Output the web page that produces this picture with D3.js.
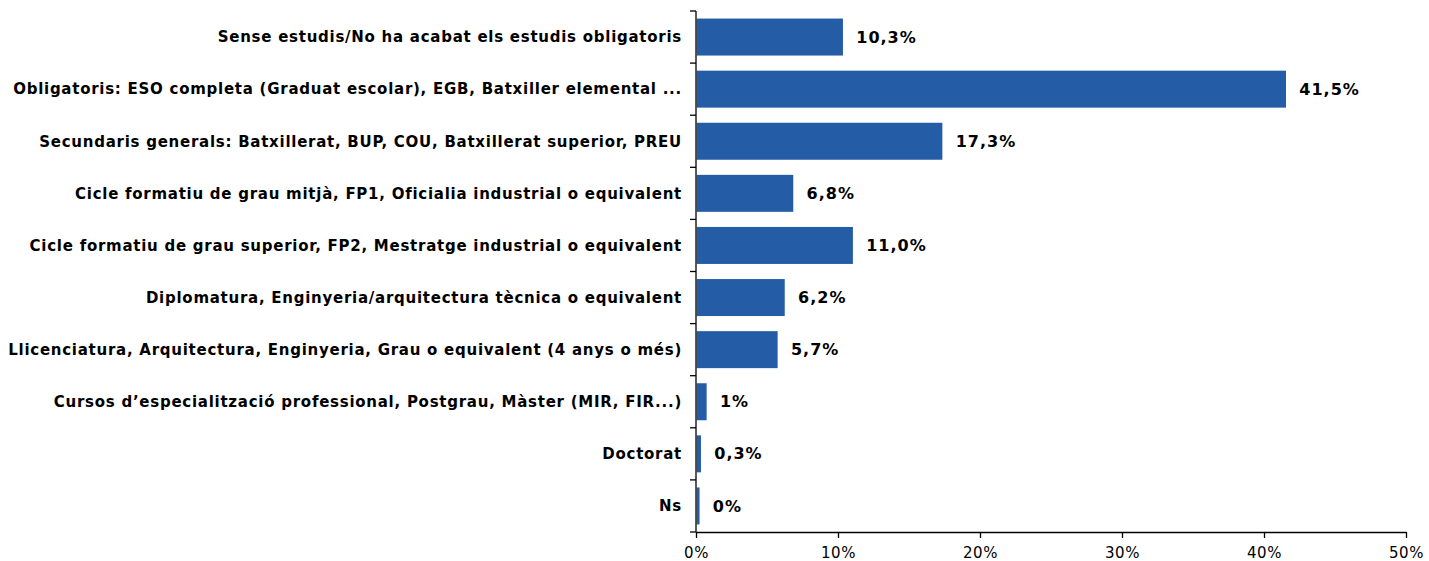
<!DOCTYPE html>
<html>
<head>
<meta charset="utf-8">
<script src="https://cdn.jsdelivr.net/npm/d3@7"></script>
<style>
	body { margin: 0; background: #fff; }
	text { font-family: "DejaVu Sans", Verdana, sans-serif; }
</style>
</head>
<body>
<script>
const categories = [
	'Sense estudis/No ha acabat els estudis obligatoris',
	'Obligatoris: ESO completa (Graduat escolar), EGB, Batxiller elemental ...',
	'Secundaris generals: Batxillerat, BUP, COU, Batxillerat superior, PREU',
	'Cicle formatiu de grau mitjà, FP1, Oficialia industrial o equivalent',
	'Cicle formatiu de grau superior, FP2, Mestratge industrial o equivalent',
	'Diplomatura, Enginyeria/arquitectura tècnica o equivalent',
	'Llicenciatura, Arquitectura, Enginyeria, Grau o equivalent (4 anys o més)',
	'Cursos d\u2019especialització professional, Postgrau, Màster (MIR, FIR...)',
	'Doctorat',
	'Ns'
]
const values = [10.3, 41.5, 17.3, 6.8, 11.0, 6.2, 5.7, 0.7, 0.3, 0.2]
const valueLabels = ['10,3%', '41,5%', '17,3%', '6,8%', '11,0%', '6,2%', '5,7%', '1%', '0,3%', '0%']
const xTicks = [0, 10, 20, 30, 40, 50]

const width = 1429, height = 561
const margin = { top: 11, right: 23, bottom: 29, left: 696 }

let svg = d3.select('body').append('svg')
	.attr('width', width)
	.attr('height', height)

let x = d3.scaleLinear()
	.domain([0, 50])
	.range([margin.left, width - margin.right])

let y = d3.scaleBand()
	.domain(categories)
	.range([margin.top, height - margin.bottom])
	.paddingInner(0.29)
	.paddingOuter(0.145)

// bars
svg.selectAll('rect.bar')
	.data(values)
	.enter().append('rect')
	.attr('class', 'bar')
	.attr('x', x(0) + 0.7)
	.attr('y', (d, i) => y(categories[i]))
	.attr('width', d => x(d) - x(0))
	.attr('height', y.bandwidth())
	.attr('fill', '#245da6')

// value labels
svg.selectAll('text.val')
	.data(values)
	.enter().append('text')
	.attr('class', 'val')
	.attr('x', d => x(d) + 14)
	.attr('y', (d, i) => y(categories[i]) + y.bandwidth() / 2)
	.attr('dy', '.35em')
	.attr('font-size', '16px')
	.attr('font-weight', 'bold')
	.attr('letter-spacing', '1px')
	.attr('fill', '#000')
	.text((d, i) => valueLabels[i])

// category labels
svg.selectAll('text.cat')
	.data(categories)
	.enter().append('text')
	.attr('class', 'cat')
	.attr('x', margin.left - 14)
	.attr('y', d => y(d) + y.bandwidth() / 2)
	.attr('dy', '.35em')
	.attr('text-anchor', 'end')
	.attr('font-size', '15px')
	.attr('font-weight', 'bold')
	.attr('letter-spacing', '0.74px')
	.attr('fill', '#000')
	.text(d => d)

// y axis line with ticks at band boundaries
let yBottom = height - margin.bottom
let axisG = svg.append('g')
	.attr('stroke', '#000')
	.attr('stroke-width', 1.3)
axisG.append('line')
	.attr('x1', margin.left).attr('x2', margin.left)
	.attr('y1', margin.top).attr('y2', yBottom)
let step = (yBottom - margin.top) / categories.length
d3.range(categories.length + 1).forEach(i => {
	axisG.append('line')
		.attr('x1', margin.left - 6).attr('x2', margin.left)
		.attr('y1', margin.top + i * step).attr('y2', margin.top + i * step)
})

// x axis
let xAxis = svg.append('g')
	.attr('transform', 'translate(0,' + yBottom + ')')
	.call(d3.axisBottom(x).tickValues(xTicks).tickSize(6).tickSizeOuter(0).tickFormat(d => d + '%'))
xAxis.select('.domain').attr('stroke', '#000').attr('stroke-width', 1.3)
xAxis.selectAll('.tick line').attr('stroke', '#000').attr('stroke-width', 1.3)
xAxis.selectAll('.tick text')
	.attr('font-size', '15px')
	.attr('font-family', '"DejaVu Sans", Verdana, sans-serif')
	.attr('letter-spacing', '0.5px')
	.attr('fill', '#000')
	.attr('dy', '1.1em')
</script>
</body>
</html>
